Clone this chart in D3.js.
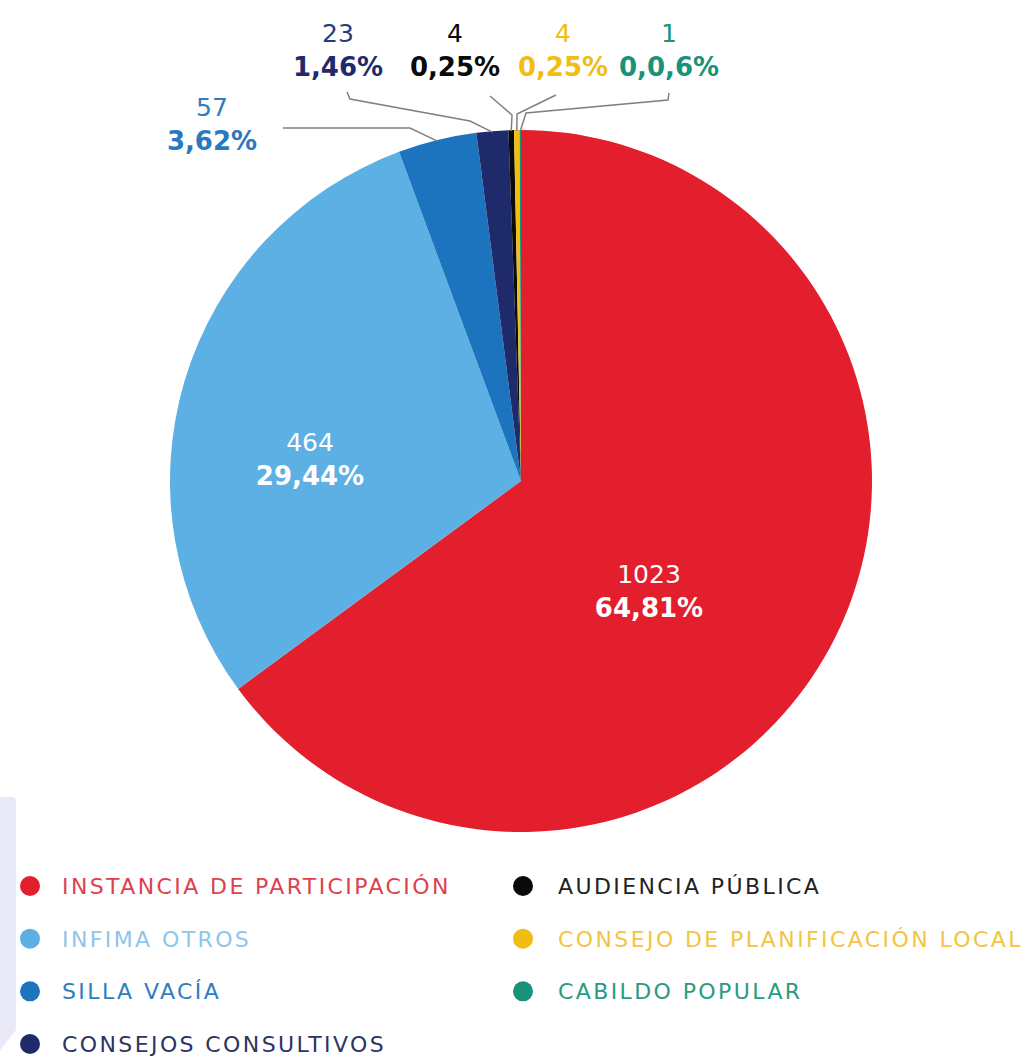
<!DOCTYPE html>
<html>
<head>
<meta charset="utf-8">
<script src="https://cdn.jsdelivr.net/npm/d3@7"></script>
<style>
  body { margin: 0; background: #fff; }
  text { font-family: "DejaVu Sans", sans-serif; }
</style>
</head>
<body>
<script>
// data
const categories = ["INSTANCIA DE PARTICIPACIÓN", "INFIMA OTROS", "SILLA VACÍA", "CONSEJOS CONSULTIVOS",
                    "AUDIENCIA PÚBLICA", "CONSEJO DE PLANIFICACIÓN LOCAL", "CABILDO POPULAR"];
const counts = [1023, 464, 57, 23, 4, 4, 1];
const percents = ["64,81%", "29,44%", "3,62%", "1,46%", "0,25%", "0,25%", "0,0,6%"];
const colors = ["#e31e2d", "#5db0e3", "#1b74bd", "#1f2a6b", "#0a0a0a", "#f2bd12", "#18937a"];
const legendTextColors = ["#e0404e", "#8fc5ea", "#2f7cc0", "#2b3463", "#222222", "#f3c443", "#2b9a80"];

// label layout (inside = no leader; outside = leader bends)
const labelPos = [
  {x: 649, y: 583, inside: true},
  {x: 310, y: 451, inside: true},
  {x: 212, y: 116, bends: [[410, 128], [283, 128]]},
  {x: 338, y: 42, bends: [[470, 121], [350, 99], [347, 92]]},
  {x: 455, y: 42, bends: [[512, 115], [490, 96]]},
  {x: 563, y: 42, bends: [[517, 114], [556, 95]]},
  {x: 669, y: 42, bends: [[526, 113], [668, 100], [669, 93]]}
];

const width = 1032, height = 1057;
const cx = 521, cy = 481, r = 351;

const svg = d3.select("body").append("svg")
    .attr("width", width)
    .attr("height", height);

// decorative lavender strip on left edge
svg.append("path")
    .attr("d", "M0,797 L12,797 Q16,797 16,801 L16,1030 L0,1050 Z")
    .attr("fill", "#e9e9f7");

const pie = d3.pie().sort(null).value(d => d)(counts);
const arc = d3.arc().innerRadius(0).outerRadius(r);

const g = svg.append("g").attr("transform", `translate(${cx},${cy})`);

g.selectAll("path")
  .data(pie)
  .join("path")
    .attr("d", arc)
    .attr("fill", (d, i) => colors[i]);

// leader lines
const line = d3.line();
pie.forEach((d, i) => {
  const L = labelPos[i];
  if (L.inside) return;
  const a = (d.startAngle + d.endAngle) / 2;
  const p0 = [cx + Math.sin(a) * (r - 1), cy - Math.cos(a) * (r - 1)];
  svg.append("path")
      .attr("d", line([p0, ...L.bends]))
      .attr("fill", "none")
      .attr("stroke", "#808080")
      .attr("stroke-width", 1.5);
});

// value labels
pie.forEach((d, i) => {
  const L = labelPos[i];
  const fill = L.inside ? "#fff" : colors[i];
  svg.append("text")
      .attr("x", L.x)
      .attr("y", L.y)
      .attr("text-anchor", "middle")
      .attr("font-size", 25)
      .attr("fill", i === 3 && !L.inside ? "#2b3a7a" : (i === 2 ? "#2f7cc0" : fill))
      .text(counts[i]);
  svg.append("text")
      .attr("x", L.x)
      .attr("y", L.y + 34)
      .attr("text-anchor", "middle")
      .attr("font-size", 26)
      .attr("font-weight", "bold")
      .attr("fill", i === 3 && !L.inside ? "#1f2a6b" : (i === 2 ? "#2a78bd" : fill))
      .text(percents[i]);
});

// legend
const legendX = d3.scaleOrdinal().domain([0, 1]).range([30, 523]);
const legendY = d3.scalePoint().domain([0, 1, 2, 3]).range([886, 1044]);
const legend = svg.append("g")
  .selectAll("g")
  .data(categories)
  .join("g")
    .attr("transform", (d, i) => {
      const col = i < 4 ? 0 : 1, row = i < 4 ? i : i - 4;
      return `translate(${legendX(col)},${legendY(row)})`;
    });

legend.append("circle")
    .attr("r", 10)
    .attr("fill", (d, i) => colors[i]);

legend.append("text")
    .attr("x", (d, i) => i < 4 ? 32 : 35)
    .attr("y", 8)
    .attr("font-size", 22)
    .attr("letter-spacing", 2.4)
    .attr("fill", (d, i) => legendTextColors[i])
    .text(d => d);
</script>
</body>
</html>
